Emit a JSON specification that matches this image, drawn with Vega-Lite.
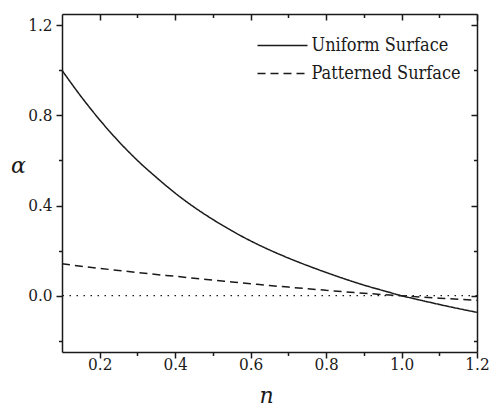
{
  "$schema": "https://vega.github.io/schema/vega-lite/v6.json",
  "width": 415,
  "height": 338,
  "autosize": "none",
  "padding": {"left": 62, "top": 14, "right": 13, "bottom": 59},
  "background": "white",
  "config": {
    "view": {"stroke": null},
    "axis": {
      "domainColor": "#1a1a1a", "domainWidth": 1.5, "tickColor": "#1a1a1a", "tickWidth": 1.5,
      "grid": false, "labelFont": "DejaVu Serif Condensed", "labelFontSize": 17, "labelColor": "#1a1a1a",
      "titleFont": "DejaVu Serif", "titleFontSize": 22, "titleFontStyle": "italic", "titleFontWeight": "normal", "titleColor": "#1a1a1a"
    },
    "legend": {
      "orient": "none", "legendX": 207, "legendY": 18, "padding": 0,
      "labelFont": "DejaVu Serif Condensed", "labelFontSize": 18, "labelColor": "#1a1a1a", "labelLimit": 300,
      "symbolType": "M-2,0H2", "symbolSize": 625, "symbolStrokeWidth": 1.5, "symbolStrokeColor": "#1a1a1a",
      "symbolFillColor": "transparent", "rowPadding": 5, "labelOffset": 15.5
    }
  },
  "datasets": {
    "curves": [
      {"n": 0.10, "alpha": 1.000, "surface": "Uniform Surface"},
      {"n": 0.15, "alpha": 0.885, "surface": "Uniform Surface"},
      {"n": 0.20, "alpha": 0.780, "surface": "Uniform Surface"},
      {"n": 0.25, "alpha": 0.685, "surface": "Uniform Surface"},
      {"n": 0.30, "alpha": 0.600, "surface": "Uniform Surface"},
      {"n": 0.35, "alpha": 0.525, "surface": "Uniform Surface"},
      {"n": 0.40, "alpha": 0.455, "surface": "Uniform Surface"},
      {"n": 0.45, "alpha": 0.393, "surface": "Uniform Surface"},
      {"n": 0.50, "alpha": 0.338, "surface": "Uniform Surface"},
      {"n": 0.55, "alpha": 0.288, "surface": "Uniform Surface"},
      {"n": 0.60, "alpha": 0.243, "surface": "Uniform Surface"},
      {"n": 0.65, "alpha": 0.203, "surface": "Uniform Surface"},
      {"n": 0.70, "alpha": 0.167, "surface": "Uniform Surface"},
      {"n": 0.75, "alpha": 0.134, "surface": "Uniform Surface"},
      {"n": 0.80, "alpha": 0.103, "surface": "Uniform Surface"},
      {"n": 0.85, "alpha": 0.074, "surface": "Uniform Surface"},
      {"n": 0.90, "alpha": 0.047, "surface": "Uniform Surface"},
      {"n": 0.95, "alpha": 0.023, "surface": "Uniform Surface"},
      {"n": 1.00, "alpha": 0.000, "surface": "Uniform Surface"},
      {"n": 1.05, "alpha": -0.020, "surface": "Uniform Surface"},
      {"n": 1.10, "alpha": -0.039, "surface": "Uniform Surface"},
      {"n": 1.15, "alpha": -0.057, "surface": "Uniform Surface"},
      {"n": 1.20, "alpha": -0.074, "surface": "Uniform Surface"},
      {"n": 0.10, "alpha": 0.142, "surface": "Patterned Surface"},
      {"n": 0.15, "alpha": 0.131, "surface": "Patterned Surface"},
      {"n": 0.20, "alpha": 0.121, "surface": "Patterned Surface"},
      {"n": 0.25, "alpha": 0.112, "surface": "Patterned Surface"},
      {"n": 0.30, "alpha": 0.103, "surface": "Patterned Surface"},
      {"n": 0.35, "alpha": 0.094, "surface": "Patterned Surface"},
      {"n": 0.40, "alpha": 0.086, "surface": "Patterned Surface"},
      {"n": 0.45, "alpha": 0.077, "surface": "Patterned Surface"},
      {"n": 0.50, "alpha": 0.069, "surface": "Patterned Surface"},
      {"n": 0.55, "alpha": 0.061, "surface": "Patterned Surface"},
      {"n": 0.60, "alpha": 0.053, "surface": "Patterned Surface"},
      {"n": 0.65, "alpha": 0.045, "surface": "Patterned Surface"},
      {"n": 0.70, "alpha": 0.038, "surface": "Patterned Surface"},
      {"n": 0.75, "alpha": 0.031, "surface": "Patterned Surface"},
      {"n": 0.80, "alpha": 0.024, "surface": "Patterned Surface"},
      {"n": 0.85, "alpha": 0.017, "surface": "Patterned Surface"},
      {"n": 0.90, "alpha": 0.011, "surface": "Patterned Surface"},
      {"n": 0.95, "alpha": 0.005, "surface": "Patterned Surface"},
      {"n": 1.00, "alpha": 0.000, "surface": "Patterned Surface"},
      {"n": 1.05, "alpha": -0.006, "surface": "Patterned Surface"},
      {"n": 1.10, "alpha": -0.011, "surface": "Patterned Surface"},
      {"n": 1.15, "alpha": -0.016, "surface": "Patterned Surface"},
      {"n": 1.20, "alpha": -0.021, "surface": "Patterned Surface"}
    ]
  },
  "data": {"name": "curves"},
  "resolve": {"axis": {"x": "independent", "y": "independent"}},
  "layer": [
    {
      "data": {"values": [{}]},
      "mark": {"type": "rule", "strokeDash": [1.5, 5.5], "strokeWidth": 1.3, "color": "#1a1a1a"},
      "encoding": {
        "y": {"datum": 0, "type": "quantitative", "scale": {"domain": [-0.25, 1.25], "nice": false, "zero": false}, "axis": null}
      }
    },
    {
      "mark": {"type": "line", "strokeWidth": 1.5, "color": "#1a1a1a", "interpolate": "monotone"},
      "encoding": {
        "x": {"field": "n", "type": "quantitative",
              "scale": {"domain": [0.1, 1.2], "nice": false, "zero": false},
              "axis": {"orient": "bottom", "values": [0.2, 0.4, 0.6, 0.8, 1.0, 1.2], "format": ".1f", "tickSize": 6,
                       "labelPadding": 11, "labelBaseline": "alphabetic", "title": "n",
                       "titleX": 204, "titleY": 50, "titleBaseline": "alphabetic", "titleAlign": "center", "labelFlush": false}},
        "y": {"field": "alpha", "type": "quantitative",
              "scale": {"domain": [-0.25, 1.25], "nice": false, "zero": false},
              "axis": {"orient": "left", "values": [0, 0.4, 0.8, 1.2], "format": ".1f", "tickSize": 6, "labelPadding": 4,
                       "title": "α", "titleAngle": 0, "titleX": -44, "titleY": 158, "titleAlign": "center", "titleBaseline": "alphabetic", "labelFlush": false}},
        "strokeDash": {"field": "surface", "type": "nominal",
                       "scale": {"domain": ["Uniform Surface", "Patterned Surface"], "range": [[1, 0], [8, 5]]},
                       "legend": {"title": null}}
      }
    },
    {
      "mark": {"type": "point", "opacity": 0},
      "encoding": {
        "x": {"field": "n", "type": "quantitative",
              "axis": {"orient": "top", "values": [0.2, 0.4, 0.6, 0.8, 1.0, 1.2], "tickSize": -6, "labels": false, "title": null}},
        "y": {"field": "alpha", "type": "quantitative",
              "axis": {"orient": "right", "values": [0, 0.4, 0.8, 1.2], "tickSize": -6, "labels": false, "title": null}}
      }
    },
    {
      "mark": {"type": "point", "opacity": 0},
      "encoding": {
        "x": {"field": "n", "type": "quantitative",
              "axis": {"orient": "bottom", "values": [0.3, 0.5, 0.7, 0.9, 1.1], "tickSize": 3.5, "labels": false, "domain": false, "title": null}},
        "y": {"field": "alpha", "type": "quantitative",
              "axis": {"orient": "left", "values": [-0.2, 0.2, 0.6, 1.0], "tickSize": 3.5, "labels": false, "domain": false, "title": null}}
      }
    },
    {
      "mark": {"type": "point", "opacity": 0},
      "encoding": {
        "x": {"field": "n", "type": "quantitative",
              "axis": {"orient": "top", "values": [0.3, 0.5, 0.7, 0.9, 1.1], "tickSize": -3.5, "labels": false, "domain": false, "title": null}},
        "y": {"field": "alpha", "type": "quantitative",
              "axis": {"orient": "right", "values": [-0.2, 0.2, 0.6, 1.0], "tickSize": -3.5, "labels": false, "domain": false, "title": null}}
      }
    }
  ]
}
